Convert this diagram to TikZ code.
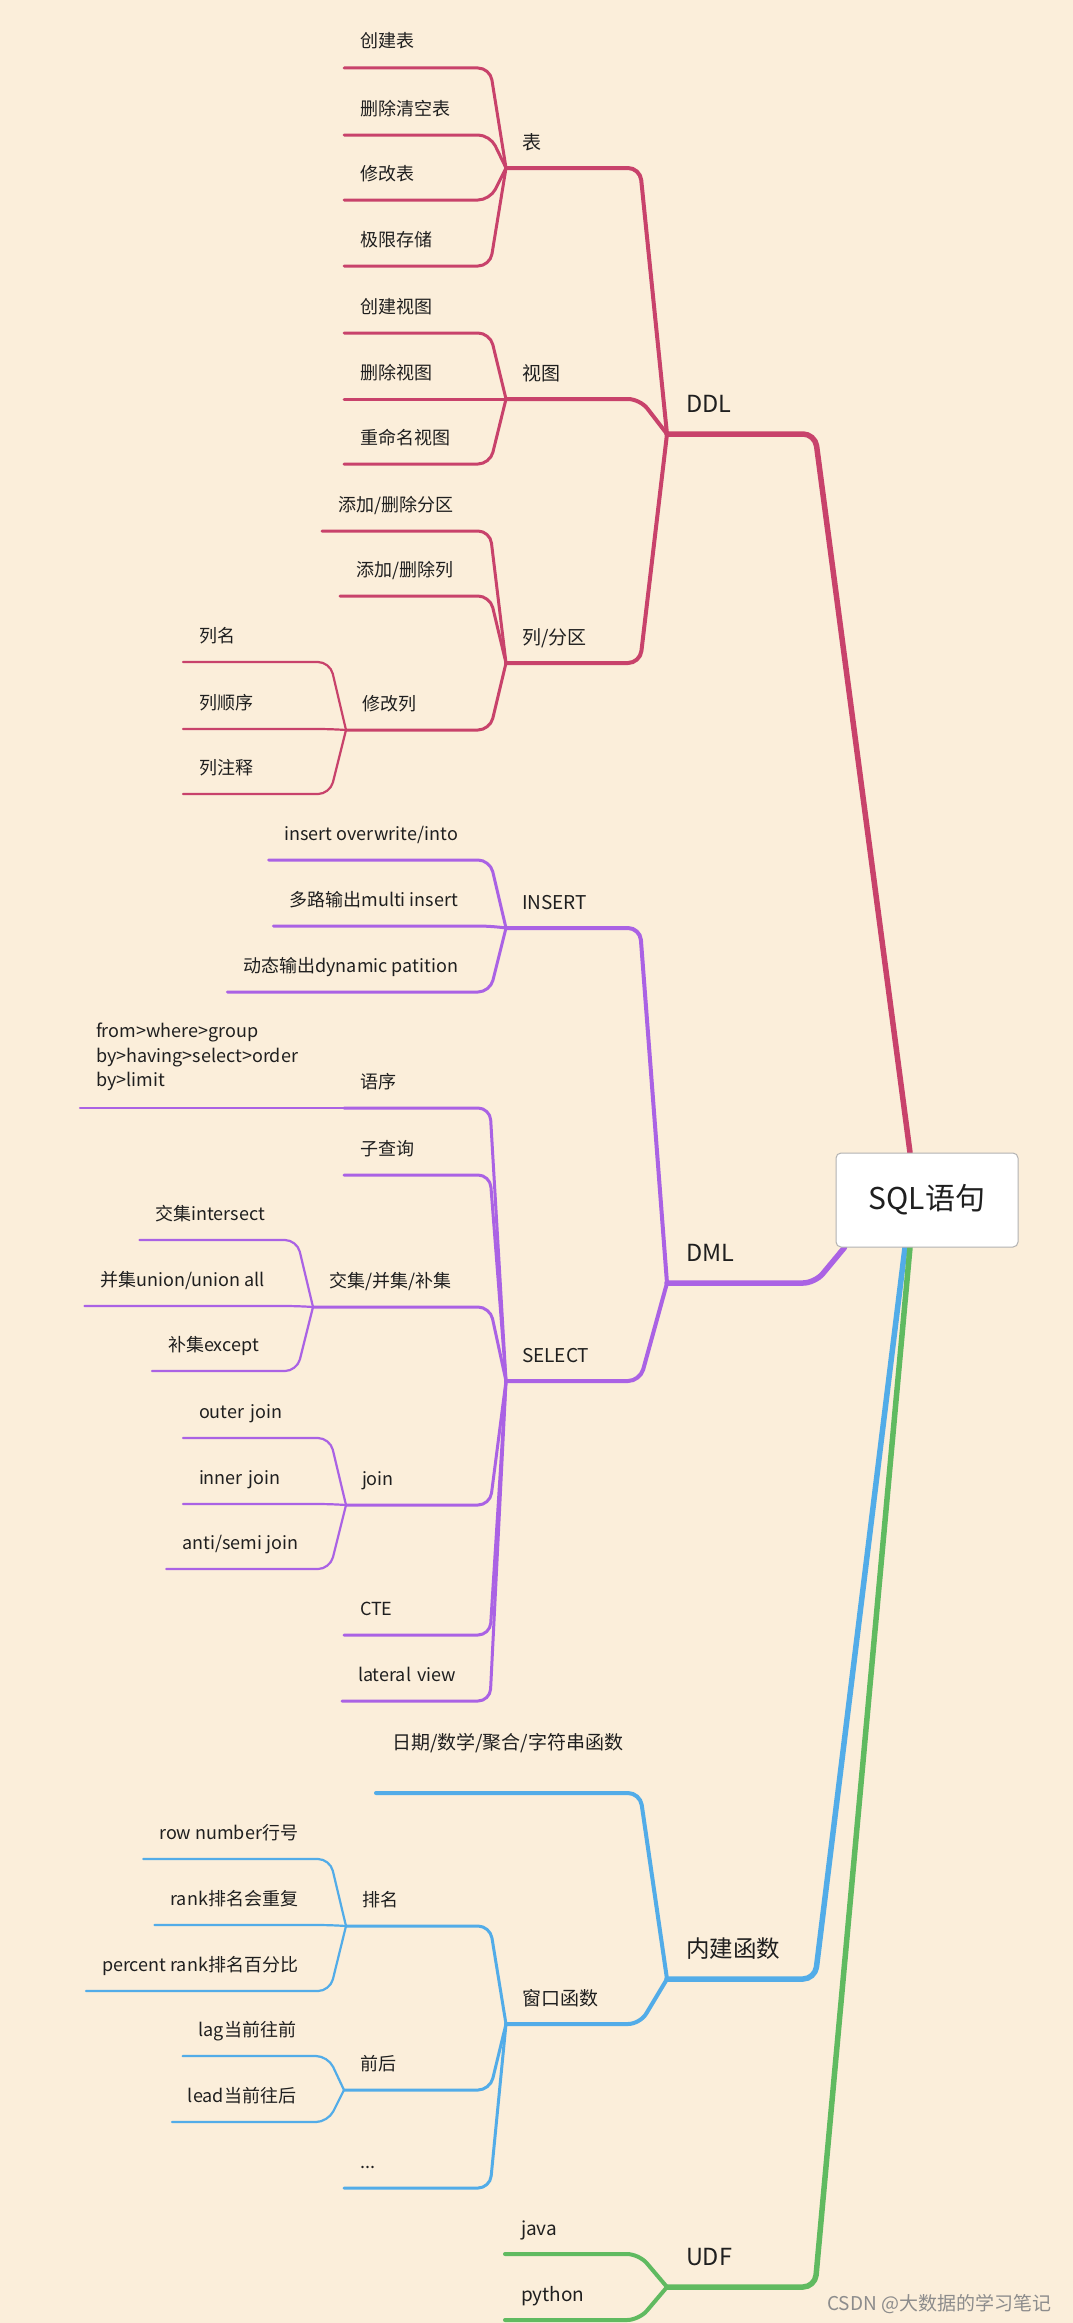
\documentclass[tikz,border=0pt]{standalone}
\usepackage{fontspec}
\setmainfont{Noto Sans CJK SC}
\usepackage{xcolor}
\usetikzlibrary{backgrounds}

\definecolor{bgc}{RGB}{251,238,218}
\definecolor{ddlc}{RGB}{200,66,107}
\definecolor{dmlc}{RGB}{170,98,228}
\definecolor{fnc}{RGB}{82,172,232}
\definecolor{udfc}{RGB}{96,186,96}
\definecolor{rootline}{RGB}{178,178,178}
\definecolor{wmc}{RGB}{140,140,140}

\tikzset{
  root/.style={draw=rootline, line width=1pt, fill=white, rounded corners=5pt,
    minimum width=182pt, minimum height=94pt, font=\fontsize{30}{36}\selectfont},
  lvone/.style={anchor=south west, font=\fontsize{23.5}{28}\selectfont, inner xsep=19pt,
    inner ysep=0pt, outer sep=0pt, text width=96pt, align=left, text height=18pt, text depth=22pt},
  lvtwo/.style={anchor=south west, font=\fontsize{19}{23}\selectfont, inner xsep=16pt,
    inner ysep=0pt, outer sep=0pt, text width=86pt, align=left, text height=14pt, text depth=19pt},
  leaf/.style={font=\fontsize{18}{22}\selectfont, inner xsep=16pt, inner ysep=0pt,
    outer sep=0pt, text height=14pt, text depth=20pt},
  fixw/.style={anchor=south west, text width=#1, align=left},
  link/.style={line cap=round, line join=round, rounded corners=12pt},
  wone/.style={link, line width=5.5pt},
  wtwo/.style={link, line width=4pt},
  wthree/.style={link, line width=3pt},
  wfour/.style={link, line width=2.2pt},
}

\begin{document}
\begin{tikzpicture}[x=1pt, y=-1pt, text=black!88]
\useasboundingbox (0,0) rectangle (1073,2323);

% centre
\node[root] (root) at (927,1200) {SQL语句};

% DDL
\node[lvone] (ddl) at (667,434) {DDL};
\node[lvtwo] (biao) at (506,168) {表};
\node[lvtwo] (shitu) at (506,399) {视图};
\node[lvtwo] (liefq) at (506,663) {列/分区};
\node[leaf, fixw=98pt] (cjb) at (344,68) {创建表};
\node[leaf, fixw=98pt] (scqkb) at (344,135) {删除清空表};
\node[leaf, fixw=98pt] (xgb) at (344,200) {修改表};
\node[leaf, fixw=98pt] (jxcc) at (344,266) {极限存储};
\node[leaf, fixw=98pt] (cjst) at (344,333) {创建视图};
\node[leaf, fixw=98pt] (scst) at (344,399) {删除视图};
\node[leaf, fixw=98pt] (cmmst) at (344,464) {重命名视图};
\node[leaf, fixw=120pt] (tjfq) at (322,531) {添加/删除分区};
\node[leaf, fixw=102pt] (tjl) at (340,596) {添加/删除列};
\node[leaf, fixw=96pt] (xgl) at (346,730) {修改列};
\node[leaf, fixw=99pt] (lm) at (183,662) {列名};
\node[leaf, fixw=99pt] (lsx) at (183,729) {列顺序};
\node[leaf, fixw=99pt] (lzs) at (183,794) {列注释};

% DML
\node[lvone] (dml) at (667,1283) {DML};
\node[lvtwo] (ins) at (506,928) {INSERT};
\node[lvtwo] (sel) at (506,1381) {SELECT};
\node[leaf, anchor=south east] (iow) at (474,860) {insert overwrite/into};
\node[leaf, anchor=south east] (dlsc) at (474,926) {多路输出multi insert};
\node[leaf, anchor=south east] (dtsc) at (474,992) {动态输出dynamic patition};
\node[leaf, fixw=98pt] (yx) at (344,1108) {语序};
\node[font=\fontsize{18}{24.5}\selectfont, inner xsep=16pt, inner ysep=17pt, outer sep=0pt,
  align=left, anchor=south east] (yxnr) at (314,1108) {from>where>group\\by>having>select>order\\by>limit};
\node[leaf, fixw=98pt] (zcx) at (344,1175) {子查询};
\node[leaf, fixw=129pt] (jbb) at (313,1307) {交集/并集/补集};
\node[leaf, anchor=south east] (jj) at (281,1240) {交集intersect};
\node[leaf, anchor=south east] (bj) at (281,1306) {并集union/union all};
\node[leaf, fixw=97pt] (bjx) at (152,1371) {补集except};
\node[leaf, fixw=96pt] (jn) at (346,1505) {join};
\node[leaf, fixw=99pt] (oj) at (183,1438) {outer~join};
\node[leaf, fixw=99pt] (ij) at (183,1504) {inner~join};
\node[leaf, anchor=south east] (asj) at (314,1569) {anti/semi join};
\node[leaf, fixw=98pt] (cte) at (344,1635) {CTE};
\node[leaf, fixw=100pt] (lview) at (342,1701) {lateral~view};

% built-in functions
\node[lvone] (njhs) at (667,1979) {内建函数};
\node[lvtwo, text width=216pt, text depth=44pt] (rqhs) at (376,1793) {日期/数学/聚合/字符串函数};
\node[lvtwo] (ckhs) at (506,2024) {窗口函数};
\node[leaf, fixw=96pt] (pm) at (346,1926) {排名};
\node[leaf, anchor=south east] (rn) at (314,1859) {row number行号};
\node[leaf, anchor=south east] (rk) at (314,1925) {rank排名会重复};
\node[leaf, anchor=south east] (prk) at (314,1991) {percent rank排名百分比};
\node[leaf, fixw=98pt] (qh) at (344,2090) {前后};
\node[leaf, anchor=south east] (lag) at (312,2056) {lag当前往前};
\node[leaf, anchor=south east] (lead) at (312,2122) {lead当前往后};
\node[leaf, fixw=98pt] (more) at (344,2188) {...};

% UDF
\node[lvone] (udf) at (667,2287) {UDF};
\node[lvtwo] (java) at (505,2254) {java};
\node[lvtwo] (python) at (505,2320) {python};

\node[font=\fontsize{19}{23}\selectfont, text=wmc, anchor=base west, inner sep=0pt] (wm) at (827,2310) {CSDN @大数据的学习笔记};

\begin{scope}[on background layer]
\fill[bgc] (0,0) rectangle (1073,2323);

% DDL links
\draw[wone, ddlc] (ddl.south west) -- ([xshift=14pt]ddl.south east) -- ([xshift=-17pt]root.north);
\draw[wtwo, ddlc] (biao.south west) -- ([xshift=16pt]biao.south east) -- (ddl.south west);
\draw[wtwo, ddlc] (shitu.south west) -- ([xshift=16pt]shitu.south east) -- (ddl.south west);
\draw[wtwo, ddlc] (liefq.south west) -- ([xshift=16pt]liefq.south east) -- (ddl.south west);
\draw[wthree, ddlc] (cjb.south west) -- ([xshift=16pt]cjb.south east) -- (biao.south west);
\draw[wthree, ddlc] (scqkb.south west) -- ([xshift=16pt]scqkb.south east) -- (biao.south west);
\draw[wthree, ddlc] (xgb.south west) -- ([xshift=16pt]xgb.south east) -- (biao.south west);
\draw[wthree, ddlc] (jxcc.south west) -- ([xshift=16pt]jxcc.south east) -- (biao.south west);
\draw[wthree, ddlc] (cjst.south west) -- ([xshift=16pt]cjst.south east) -- (shitu.south west);
\draw[wthree, ddlc] (scst.south west) -- ([xshift=16pt]scst.south east) -- (shitu.south west);
\draw[wthree, ddlc] (cmmst.south west) -- ([xshift=16pt]cmmst.south east) -- (shitu.south west);
\draw[wthree, ddlc] (tjfq.south west) -- ([xshift=16pt]tjfq.south east) -- (liefq.south west);
\draw[wthree, ddlc] (tjl.south west) -- ([xshift=16pt]tjl.south east) -- (liefq.south west);
\draw[wthree, ddlc] (xgl.south west) -- ([xshift=16pt]xgl.south east) -- (liefq.south west);
\draw[wfour, ddlc] (lm.south west) -- ([xshift=16pt]lm.south east) -- (xgl.south west);
\draw[wfour, ddlc] (lsx.south west) -- ([xshift=16pt]lsx.south east) -- (xgl.south west);
\draw[wfour, ddlc] (lzs.south west) -- ([xshift=16pt]lzs.south east) -- (xgl.south west);

% DML links
\draw[wone, dmlc] (dml.south west) -- ([xshift=14pt]dml.south east) -- ([xshift=9pt]root.south west);
\draw[wtwo, dmlc] (ins.south west) -- ([xshift=16pt]ins.south east) -- (dml.south west);
\draw[wtwo, dmlc] (sel.south west) -- ([xshift=16pt]sel.south east) -- (dml.south west);
\draw[wthree, dmlc] (iow.south west) -- ([xshift=16pt]iow.south east) -- (ins.south west);
\draw[wthree, dmlc] (dlsc.south west) -- ([xshift=16pt]dlsc.south east) -- (ins.south west);
\draw[wthree, dmlc] (dtsc.south west) -- ([xshift=16pt]dtsc.south east) -- (ins.south west);
\draw[wthree, dmlc] (yx.south west) -- ([xshift=16pt]yx.south east) -- (sel.south west);
\draw[wthree, dmlc] (zcx.south west) -- ([xshift=16pt]zcx.south east) -- (sel.south west);
\draw[wthree, dmlc] (jbb.south west) -- ([xshift=16pt]jbb.south east) -- (sel.south west);
\draw[wthree, dmlc] (jn.south west) -- ([xshift=16pt]jn.south east) -- (sel.south west);
\draw[wthree, dmlc] (cte.south west) -- ([xshift=16pt]cte.south east) -- (sel.south west);
\draw[wthree, dmlc] (lview.south west) -- ([xshift=16pt]lview.south east) -- (sel.south west);
\draw[wfour, dmlc] (yxnr.south west) -- ([xshift=16pt]yxnr.south east) -- (yx.south west);
\draw[wfour, dmlc] (jj.south west) -- ([xshift=16pt]jj.south east) -- (jbb.south west);
\draw[wfour, dmlc] (bj.south west) -- ([xshift=16pt]bj.south east) -- (jbb.south west);
\draw[wfour, dmlc] (bjx.south west) -- ([xshift=16pt]bjx.south east) -- (jbb.south west);
\draw[wfour, dmlc] (oj.south west) -- ([xshift=16pt]oj.south east) -- (jn.south west);
\draw[wfour, dmlc] (ij.south west) -- ([xshift=16pt]ij.south east) -- (jn.south west);
\draw[wfour, dmlc] (asj.south west) -- ([xshift=16pt]asj.south east) -- (jn.south west);

% built-in function links
\draw[wone, fnc] (njhs.south west) -- ([xshift=14pt]njhs.south east) -- ([xshift=-22pt]root.south);
\draw[wtwo, fnc] (rqhs.south west) -- ([xshift=16pt]rqhs.south east) -- (njhs.south west);
\draw[wtwo, fnc] (ckhs.south west) -- ([xshift=16pt]ckhs.south east) -- (njhs.south west);
\draw[wthree, fnc] (pm.south west) -- ([xshift=16pt]pm.south east) -- (ckhs.south west);
\draw[wthree, fnc] (qh.south west) -- ([xshift=16pt]qh.south east) -- (ckhs.south west);
\draw[wthree, fnc] (more.south west) -- ([xshift=16pt]more.south east) -- (ckhs.south west);
\draw[wfour, fnc] (rn.south west) -- ([xshift=16pt]rn.south east) -- (pm.south west);
\draw[wfour, fnc] (rk.south west) -- ([xshift=16pt]rk.south east) -- (pm.south west);
\draw[wfour, fnc] (prk.south west) -- ([xshift=16pt]prk.south east) -- (pm.south west);
\draw[wfour, fnc] (lag.south west) -- ([xshift=16pt]lag.south east) -- (qh.south west);
\draw[wfour, fnc] (lead.south west) -- ([xshift=16pt]lead.south east) -- (qh.south west);

% UDF links
\draw[wone, udfc] (udf.south west) -- ([xshift=14pt]udf.south east) -- ([xshift=-17pt]root.south);
\draw[wtwo, udfc] (java.south west) -- ([xshift=16pt]java.south east) -- (udf.south west);
\draw[wtwo, udfc] (python.south west) -- ([xshift=16pt]python.south east) -- (udf.south west);
\end{scope}
\end{tikzpicture}
\end{document}
